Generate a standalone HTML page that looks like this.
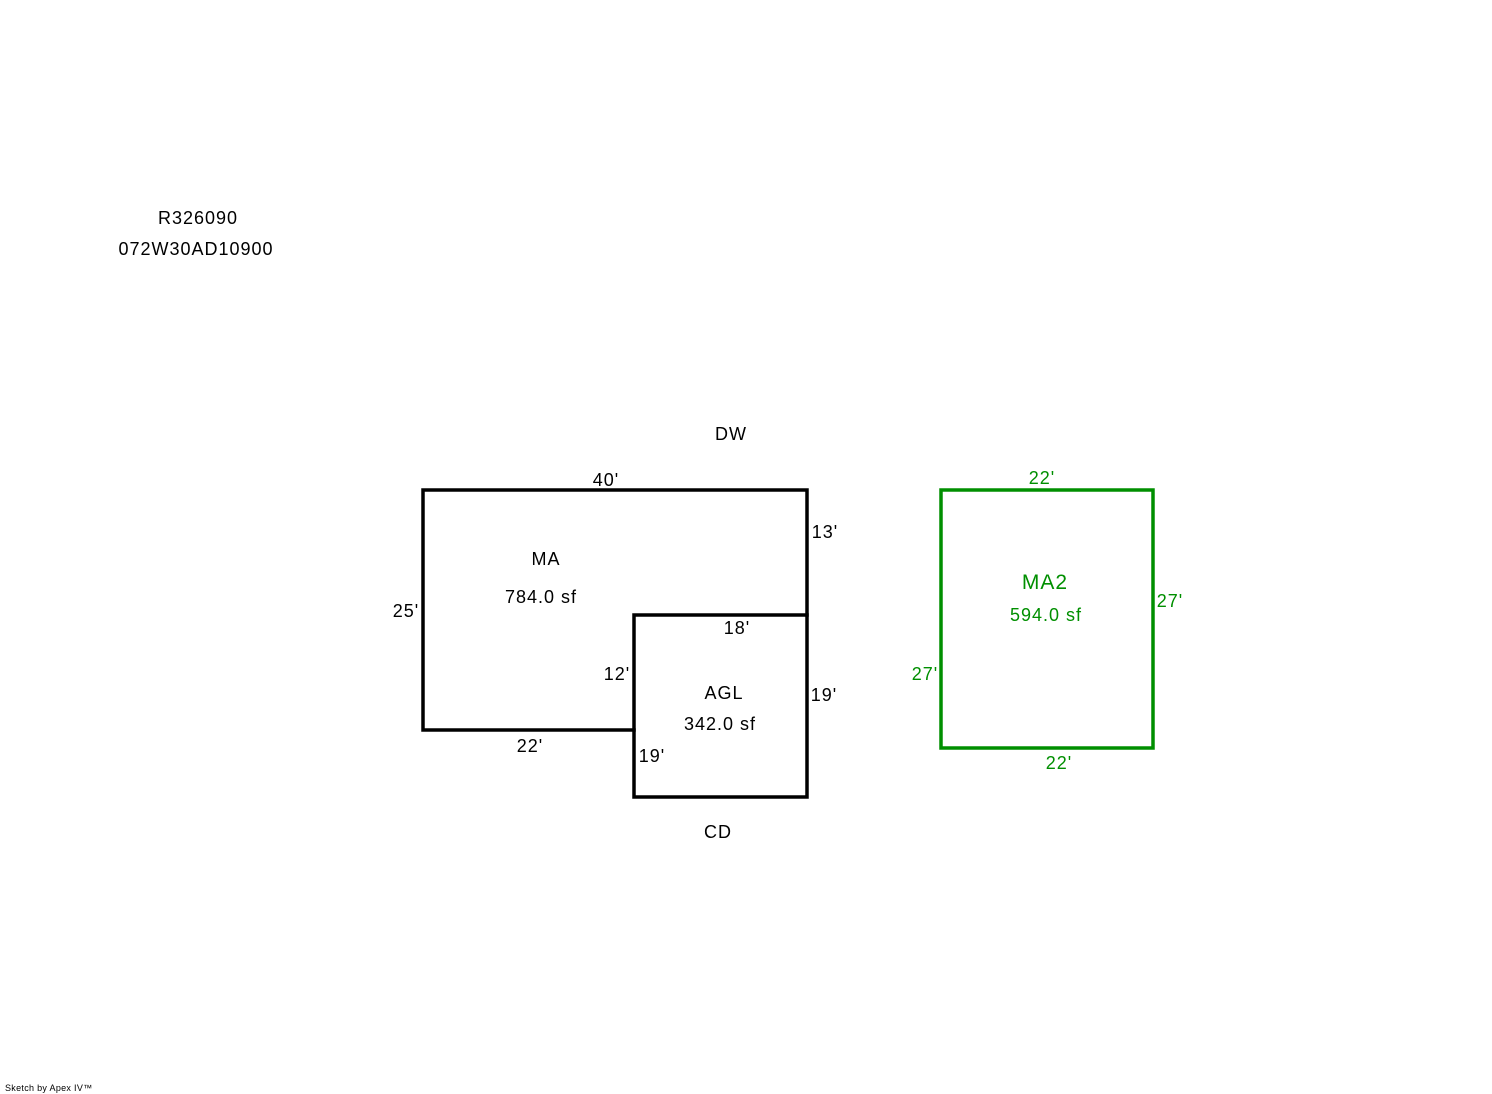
<!DOCTYPE html>
<html><head><style>
html,body{margin:0;padding:0;background:#fff;}
svg{display:block;}
text{font-family:"Liberation Sans",Arial,sans-serif;font-size:18px;letter-spacing:1px;}
</style></head><body>
<svg width="1492" height="1094" viewBox="0 0 1492 1094" xmlns="http://www.w3.org/2000/svg">
<rect width="1492" height="1094" fill="#fff"/>
<g text-anchor="middle" fill="#000">
<text x="198" y="224">R326090</text>
<text x="196" y="255">072W30AD10900</text>
<text x="731" y="440">DW</text>
<text x="606" y="486">40'</text>
<text x="825" y="538">13'</text>
<text x="546" y="565">MA</text>
<text x="541" y="603">784.0 sf</text>
<text x="406" y="617">25'</text>
<text x="737" y="634">18'</text>
<text x="617" y="680">12'</text>
<text x="724" y="699">AGL</text>
<text x="824" y="701">19'</text>
<text x="720" y="730">342.0 sf</text>
<text x="530" y="752">22'</text>
<text x="652" y="762">19'</text>
<text x="718" y="838">CD</text>
</g>
<g fill="none" stroke="#000" stroke-width="3.5" stroke-linecap="square">
<polyline points="634,730 423,730 423,490 807,490 807,615"/>
<rect x="634" y="615" width="173" height="182"/>
</g>
<rect x="941" y="490" width="212" height="258" fill="none" stroke="#008f00" stroke-width="3.5"/>
<g text-anchor="middle" fill="#008f00">
<text x="1042" y="484">22'</text>
<text x="1045" y="589" style="font-size:21px">MA2</text>
<text x="1046" y="621">594.0 sf</text>
<text x="1170" y="607">27'</text>
<text x="925" y="680">27'</text>
<text x="1059" y="769">22'</text>
</g>
<text x="5" y="1091" style="font-size:9px;letter-spacing:0.3px">Sketch by Apex IV™</text>
</svg>
</body></html>
